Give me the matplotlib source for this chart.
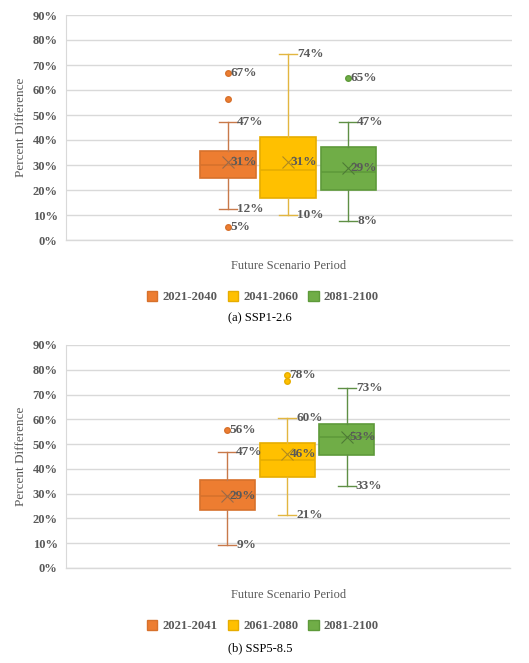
import matplotlib
matplotlib.use("Agg")
import matplotlib.pyplot as plt
import matplotlib.patches
import matplotlib.ticker

plt.rcParams["font.family"] = ["Liberation Serif", "DejaVu Serif"]

# ---- data (percent) ----
ssp126_periods = ["2021-2040", "2041-2060", "2081-2100"]
ssp126_whislo = [12.3, 9.9, 7.7]
ssp126_q1 = [24.7, 16.9, 20.0]
ssp126_med = [30.0, 28.0, 27.4]
ssp126_q3 = [35.7, 41.3, 37.1]
ssp126_whishi = [47.2, 74.3, 47.2]
ssp126_mean = [31.1, 31.1, 28.9]
ssp126_fliers = [[66.7, 56.3, 5.2], [], [64.9]]
ssp126_labeled_fliers = [[66.7, 5.2], [], [64.9]]

ssp585_periods = ["2021-2041", "2061-2080", "2081-2100"]
ssp585_whislo = [9.4, 21.4, 33.2]
ssp585_q1 = [23.5, 36.6, 45.7]
ssp585_med = [29.1, 43.6, 53.0]
ssp585_q3 = [35.6, 50.4, 58.0]
ssp585_whishi = [46.8, 60.5, 72.8]
ssp585_mean = [29.0, 46.0, 53.0]
ssp585_fliers = [[55.8], [78.0, 75.5], []]
ssp585_labeled_fliers = [[55.8], [78.0], []]

fill_colors = ["#ED7D31", "#FFC000", "#70AD47"]
edge_colors = ["#D7712C", "#E6AD00", "#5E9A3A"]
whisker_colors = ["#C8794A", "#E2B640", "#5F8F45"]
mean_colors = ["#9A6A4A", "#B08A20", "#4E7A36"]
TEXT_GRAY = "#595959"


def draw_panel(ax, periods, whislo, q1, med, q3, whishi, mean, fliers, labeled):
    positions = [-1, 0, 1]
    for i in range(3):
        stats = [dict(whislo=whislo[i], q1=q1[i], med=med[i], q3=q3[i],
                      whishi=whishi[i], mean=mean[i], fliers=fliers[i])]
        ax.bxp(stats, positions=[positions[i]], widths=0.92, patch_artist=True,
               showmeans=True, capwidths=0.3,
               boxprops=dict(facecolor=fill_colors[i], edgecolor=edge_colors[i], linewidth=1.2),
               medianprops=dict(color=edge_colors[i], linewidth=1.2),
               whiskerprops=dict(color=whisker_colors[i], linewidth=1.0),
               capprops=dict(color=whisker_colors[i], linewidth=1.0),
               meanprops=dict(marker="x", markersize=9, markeredgecolor=mean_colors[i],
                              markeredgewidth=0.8),
               flierprops=dict(marker="o", markersize=4, markerfacecolor=fill_colors[i],
                               markeredgecolor=edge_colors[i]))
        x = positions[i]
        lab = dict(fontsize=9.5, fontweight="bold", color=TEXT_GRAY, va="center", ha="left")
        ax.text(x + 0.15, whishi[i], f"{round(whishi[i])}%", **lab)
        ax.text(x + 0.15, whislo[i], f"{round(whislo[i])}%", **lab)
        ax.text(x + 0.04, mean[i], f"{round(mean[i])}%", **lab)
        for f in labeled[i]:
            ax.text(x + 0.04, f, f"{round(f)}%", **lab)

    ax.set_xlim(-3.7, 3.73)
    ax.set_ylim(0, 90)
    ax.set_yticks(range(0, 91, 10))
    ax.yaxis.set_major_formatter(matplotlib.ticker.FuncFormatter(lambda v, p: f"{v:.0f}%"))
    ax.set_xticks([])
    ax.grid(axis="y", color="#D9D9D9", linewidth=1.0)
    ax.axhline(0, color="#D9D9D9", linewidth=1.0, clip_on=False, zorder=0)
    ax.set_axisbelow(True)
    for s in ["top", "right", "bottom"]:
        ax.spines[s].set_visible(False)
    ax.spines["left"].set_color("#D9D9D9")
    ax.tick_params(axis="y", length=0, labelsize=9, labelcolor=TEXT_GRAY, pad=6)
    for t in ax.get_yticklabels():
        t.set_fontweight("bold")
    ax.set_ylabel("Percent Difference", fontsize=9.5, color=TEXT_GRAY, labelpad=4)


fig = plt.figure(figsize=(5.29, 6.63), dpi=100)
W, H = 529, 663

ax1 = fig.add_axes([66 / W, 1 - 240 / H, 446 / W, 225 / H])
ax2 = fig.add_axes([66 / W, 1 - 568 / H, 444 / W, 223 / H])

draw_panel(ax1, ssp126_periods, ssp126_whislo, ssp126_q1, ssp126_med, ssp126_q3,
           ssp126_whishi, ssp126_mean, ssp126_fliers, ssp126_labeled_fliers)
draw_panel(ax2, ssp585_periods, ssp585_whislo, ssp585_q1, ssp585_med, ssp585_q3,
           ssp585_whishi, ssp585_mean, ssp585_fliers, ssp585_labeled_fliers)

for periods, xl_y, leg_y, cap_y, cap in [
    (ssp126_periods, 266, 297, 318, "(a) SSP1-2.6"),
    (ssp585_periods, 595, 626, 648, "(b) SSP5-8.5"),
]:
    fig.text(289 / W, 1 - xl_y / H, "Future Scenario Period", fontsize=9,
             color=TEXT_GRAY, ha="center", va="center")
    handles = [matplotlib.patches.Patch(facecolor=fill_colors[i], edgecolor=edge_colors[i], label=periods[i])
               for i in range(3)]
    leg = fig.legend(handles=handles, ncol=3, loc="center", bbox_to_anchor=(263 / W, 1 - leg_y / H),
                     frameon=False, handlelength=0.8, handleheight=0.9, handletextpad=0.4,
                     columnspacing=0.8, borderpad=0.2, prop=dict(size=9.2, weight="bold"))
    for t in leg.get_texts():
        t.set_color(TEXT_GRAY)
    fig.text(260 / W, 1 - cap_y / H, cap, fontsize=9, color="black", ha="center", va="center")

fig.savefig("out.png", dpi=100)
